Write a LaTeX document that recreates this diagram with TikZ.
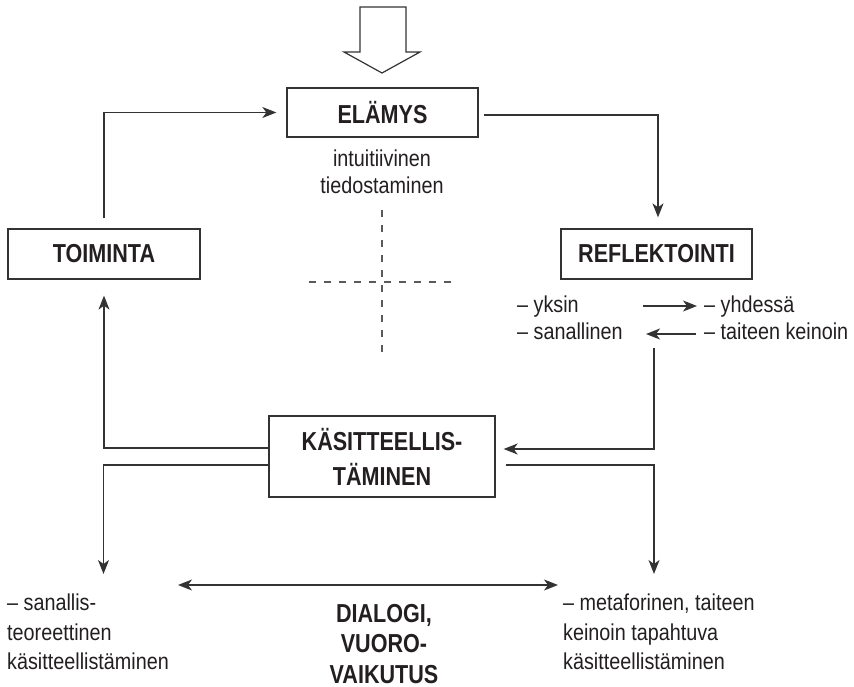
\documentclass[tikz,border=0pt]{standalone}
\usepackage{fontspec}
\setmainfont{Liberation Sans}[FakeStretch=0.86]
\newfontfamily\boldf{Liberation Sans}[FakeStretch=0.83]
\usetikzlibrary{arrows.meta}
\definecolor{ink}{HTML}{231F20}
\definecolor{lineink}{HTML}{333333}
\definecolor{dashink}{HTML}{5A5A5A}
\tikzset{
  box/.style={draw=lineink, line width=1.3pt, inner sep=0pt, text=ink,
    font=\boldf\bfseries\fontsize{26}{35}\selectfont, align=center},
  lbl/.style={inner sep=0pt, text=ink, font=\fontsize{23}{26}\selectfont},
  blbl/.style={inner sep=0pt, text=ink, font=\boldf\bfseries\fontsize{26}{30}\selectfont},
  conn/.style={draw=lineink, line width=1.3pt},
  arr/.style={conn, -{Stealth[length=14pt,width=11pt,inset=4pt]}},
  darr/.style={conn, {Stealth[length=14pt,width=11pt,inset=4pt]}-{Stealth[length=14pt,width=11pt,inset=4pt]}},
  crossline/.style={draw=dashink, line width=1.1pt, dash pattern=on 7pt off 8pt}
}
\begin{document}
\begin{tikzpicture}[x=1pt,y=-1pt]
\useasboundingbox (0,0) rectangle (854,687);

% hollow input arrow
\draw[draw=lineink, line width=1.2pt, fill=white, line join=miter]
  (360,7) -- (406,7) -- (406,52) -- (420,52) -- (382,73) -- (344,52) -- (360,52) -- cycle;

% boxes
\node[box, minimum width=191pt, minimum height=49pt] (elamys) at (382.5,112.5) {ELÄMYS};
\node[box, minimum width=192pt, minimum height=50pt] (toim) at (104,254) {TOIMINTA};
\node[box, minimum width=191pt, minimum height=50pt] (refl) at (656.5,254) {REFLEKTOINTI};
\node[box, minimum width=226pt, minimum height=81pt] (kas) at (382,456.5) {KÄSITTEELLIS-\\TÄMINEN};

% texts under ELÄMYS
\node[lbl, anchor=base] (int1) at (382,167) {intuitiivinen};
\node[lbl, anchor=base] (int2) at (382,194) {tiedostaminen};

% reflektointi texts
\node[lbl, anchor=base west] (r1) at (517,312) {– yksin};
\node[lbl, anchor=base west] (r2) at (704,312) {– yhdessä};
\node[lbl, anchor=base west] (r3) at (517,339) {– sanallinen};
\node[lbl, anchor=base west] (r4) at (704,339) {– taiteen keinoin};

% bottom texts
\node[lbl, anchor=base west] (bl1) at (7,610) {– sanallis-};
\node[lbl, anchor=base west] (bl2) at (7,640) {teoreettinen};
\node[lbl, anchor=base west] (bl3) at (7,669) {käsitteellistäminen};
\node[lbl, anchor=base west] (br1) at (563,610) {– metaforinen, taiteen};
\node[lbl, anchor=base west] (br2) at (563,640) {keinoin tapahtuva};
\node[lbl, anchor=base west] (br3) at (563,669) {käsitteellistäminen};
\node[blbl, anchor=base] (d1) at (384,622) {DIALOGI,};
\node[blbl, anchor=base] (d2) at (384,652) {VUORO-};
\node[blbl, anchor=base] (d3) at (384,683) {VAIKUTUS};

% coordinates
\coordinate (a1) at (643,306);
\coordinate (a2) at (697,306);
\coordinate (b1) at (696,334);
\coordinate (b2) at (646,334);
\coordinate (rtop) at (654,348);
\coordinate (lbtip) at (103.5,574);
\coordinate (rbtip) at (654,574);
\coordinate (dl) at (178,585);
\coordinate (dr) at (558,585);

% connectors
\draw[arr, shorten <=10pt, shorten >=10pt] (toim.north) |- (elamys.west);
\draw[arr, shorten <=5pt, shorten >=11pt] ([yshift=-2.5pt]elamys.east) -| ([xshift=1.5pt]refl.north);
\draw[arr] (a1) -- (a2);
\draw[arr] (b1) -- (b2);
\draw[arr, shorten >=8pt] (rtop) |- ([yshift=7.5pt]kas.east);
\draw[arr, shorten >=16pt] ([yshift=8.5pt]kas.west) -| (toim.south);
\draw[arr] ([yshift=-8.5pt]kas.west) -| (lbtip);
\draw[arr, shorten <=10pt] ([yshift=-8.5pt]kas.east) -| (rbtip);
\draw[darr] (dl) -- (dr);

% dashed cross
\draw[crossline] (382,210) -- (382,352);
\draw[crossline] (309,282) -- (455,282);
\end{tikzpicture}
\end{document}
